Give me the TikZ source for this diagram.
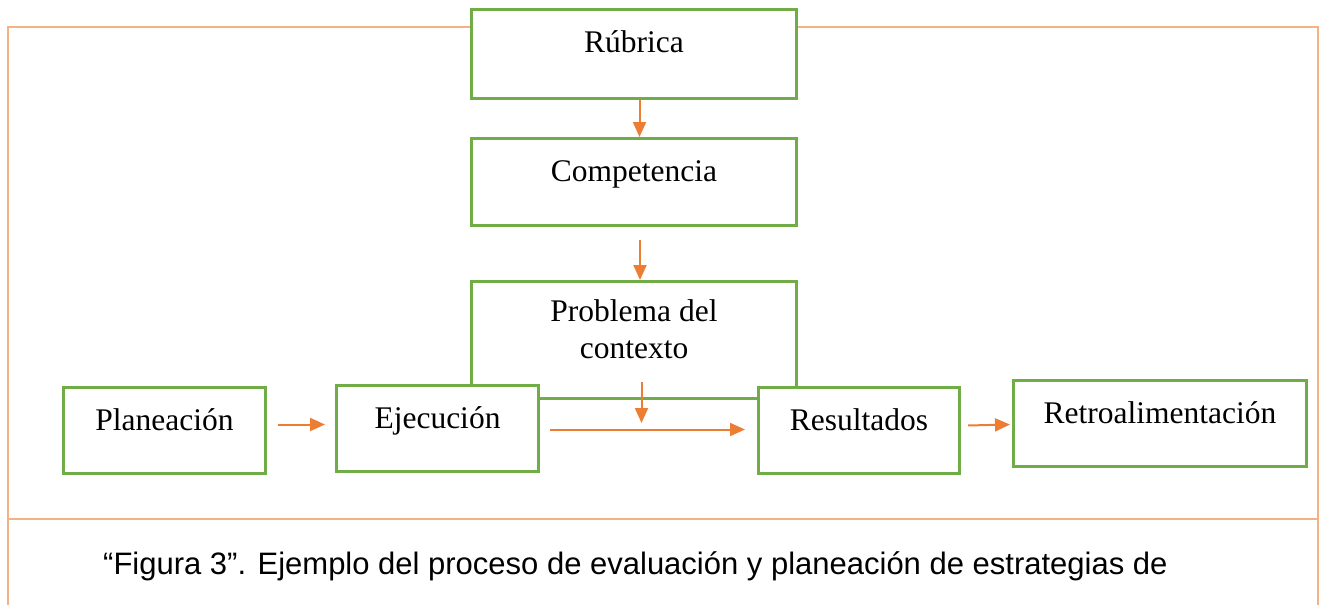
\documentclass[tikz,border=0pt]{standalone}
\usepackage{fontspec}
\setmainfont{Liberation Serif}
\newfontfamily\captionfont{Liberation Sans}
\usetikzlibrary{arrows.meta}
\definecolor{boxgreen}{HTML}{70AD47}
\definecolor{arroworange}{HTML}{ED7D31}
\definecolor{frameorange}{HTML}{F4B183}

\begin{document}
\begin{tikzpicture}[x=1pt, y=-1pt,
    box/.style={rectangle, draw=boxgreen, line width=3pt, fill=white, anchor=north west, inner sep=0pt, align=center, font=\fontsize{31.5}{37}\selectfont, text height=43pt},
    arrow/.style={-{Triangle[length=15pt,width=13pt]}, line width=2pt, draw=arroworange},
    frameline/.style={draw=frameorange, line width=2pt}
]
\useasboundingbox (0,0) rectangle (1320,605);
\draw[frameline] (8,605) -- (8,27) -- (1318,27) -- (1318,605);
\draw[frameline] (8,519) -- (1318,519);

\node[box, minimum width=325pt, minimum height=89pt, text depth=46pt] (rubrica) at (470,8) {Rúbrica};
\node[box, minimum width=325pt, minimum height=87pt, text depth=44pt] (competencia) at (470,137) {Competencia};
\node[box, minimum width=325pt, minimum height=117pt, text height=40pt, text depth=77pt] (problema) at (470,280) {\begin{tabular}[t]{@{}c@{}}Problema del\\contexto\end{tabular}};
\node[box, minimum width=202pt, minimum height=86pt, text depth=43pt] (planeacion) at (62,386) {Planeación};
\node[box, minimum width=202pt, minimum height=86pt, text depth=43pt] (ejecucion) at (335,384) {Ejecución};
\node[box, minimum width=201pt, minimum height=86pt, text depth=43pt] (resultados) at (757,386) {Resultados};
\node[box, minimum width=293pt, minimum height=86pt, text depth=43pt] (retro) at (1012,379) {Retroalimentación};

\draw[arrow] ([xshift=5.5pt]rubrica.south) -- ([xshift=5.5pt]competencia.north);
\draw[arrow] ([xshift=6pt,yshift=-13pt]competencia.south) -- ([xshift=6pt]problema.north);
\draw[arrow] ([xshift=7.5pt,yshift=18pt]problema.south) -- ([xshift=7.5pt,yshift=-23pt]problema.south);
\draw[arrow] ([xshift=11pt,yshift=6pt]planeacion.east) -- ([xshift=-10pt,yshift=4pt]ejecucion.west);
\draw[arrow] ([xshift=10pt,yshift=-1pt]ejecucion.east) -- ([xshift=-12pt,yshift=1pt]resultados.west);
\draw[arrow] ([xshift=7pt,yshift=5pt]resultados.east) -- ([xshift=-2pt,yshift=-1pt]retro.west);

\node[anchor=base west, inner sep=0pt, font=\captionfont\fontsize{31}{37}\selectfont] (caption) at (103,574) {“Figura 3”. Ejemplo del proceso de evaluación y planeación de estrategias de};
\end{tikzpicture}
\end{document}
